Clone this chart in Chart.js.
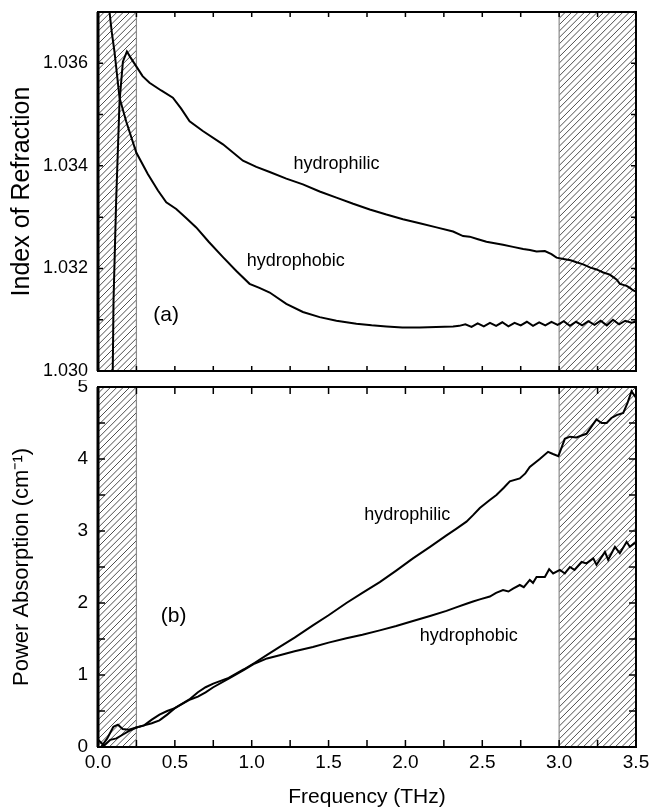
<!DOCTYPE html>
<html>
<head>
<meta charset="utf-8">
<script src="https://cdn.jsdelivr.net/npm/chart.js@4.4.1/dist/chart.umd.min.js"></script>
<style>
  html, body { margin: 0; padding: 0; background: #fff; }
  #wrap { position: relative; width: 649px; height: 811px; }
  canvas { position: absolute; left: 0; }
  #topChart { top: 0; }
  #bottomChart { top: 380px; }
</style>
</head>
<body>
<div id="wrap">
  <canvas id="topChart" width="649" height="380"></canvas>
  <canvas id="bottomChart" width="649" height="431"></canvas>
</div>
<script>
// Data
const hatchBands = [[0, 0.25], [3.0, 3.5]];

const freqTopPhilic = [0.090, 0.096, 0.101, 0.118, 0.140, 0.162, 0.188, 0.210, 0.249, 0.290,
  0.335, 0.411, 0.487, 0.540, 0.596, 0.682, 0.813, 0.943, 1.030, 1.117,
  1.225, 1.333, 1.442, 1.551, 1.660, 1.768, 1.876, 1.984, 2.093, 2.202,
  2.310, 2.375, 2.418, 2.472, 2.527, 2.581, 2.635, 2.700, 2.766, 2.810,
  2.853, 2.907, 2.950, 2.983, 3.037, 3.075, 3.113, 3.156, 3.200, 3.243,
  3.287, 3.330, 3.352, 3.375, 3.395, 3.417, 3.439, 3.460, 3.482, 3.500];
const indexPhilic = [1.02940, 1.03000, 1.03137, 1.03331, 1.03525, 1.03603, 1.03623, 1.03612, 1.03594, 1.03575,
  1.03562, 1.03547, 1.03533, 1.03512, 1.03487, 1.03468, 1.03442, 1.03410, 1.03398, 1.03388,
  1.03375, 1.03364, 1.03350, 1.03338, 1.03326, 1.03315, 1.03305, 1.03296, 1.03288, 1.03280,
  1.03272, 1.03263, 1.03262, 1.03257, 1.03252, 1.03249, 1.03246, 1.03242, 1.03238, 1.03236,
  1.03233, 1.03234, 1.03228, 1.03221, 1.03218, 1.03216, 1.03212, 1.03208, 1.03202, 1.03198,
  1.03192, 1.03188, 1.03183, 1.03178, 1.03170, 1.03168, 1.03166, 1.03162, 1.03157, 1.03155];

const freqTopPhobic = [0.060, 0.075, 0.090, 0.107, 0.140, 0.183, 0.249, 0.324, 0.390, 0.444,
  0.509, 0.575, 0.639, 0.720, 0.813, 0.900, 0.986, 1.050, 1.117, 1.225,
  1.333, 1.442, 1.551, 1.681, 1.780, 1.876, 1.980, 2.093, 2.200, 2.310,
  2.35, 2.39, 2.43, 2.47, 2.51, 2.55, 2.59, 2.63, 2.67, 2.71,
  2.75, 2.79, 2.83, 2.87, 2.91, 2.95, 2.99, 3.03, 3.07, 3.11,
  3.15, 3.19, 3.23, 3.27, 3.31, 3.35, 3.39, 3.43, 3.47, 3.50];
const indexPhobic = [1.03780, 1.03700, 1.03660, 1.03623, 1.03533, 1.03487, 1.03426, 1.03384, 1.03352, 1.03329,
  1.03316, 1.03298, 1.03280, 1.03252, 1.03222, 1.03195, 1.03170, 1.03162, 1.03153, 1.03131,
  1.03115, 1.03105, 1.03098, 1.03092, 1.03089, 1.03087, 1.03085, 1.03085, 1.03086, 1.03087,
  1.03088, 1.03091, 1.03086, 1.03093, 1.03087, 1.03094, 1.03088, 1.03095, 1.03087, 1.03094,
  1.03089, 1.03096, 1.03088, 1.03095, 1.03089, 1.03096, 1.03090, 1.03097, 1.03088, 1.03096,
  1.03089, 1.03097, 1.03090, 1.03098, 1.03089, 1.03100, 1.03091, 1.03098, 1.03094, 1.03096];

const freqBotPhilic = [0.02, 0.06, 0.10, 0.13, 0.16, 0.20, 0.25, 0.30, 0.35, 0.40,
  0.45, 0.50, 0.60, 0.65, 0.70, 0.75, 0.85, 0.95, 1.02, 1.10,
  1.182, 1.279, 1.398, 1.50, 1.616, 1.72, 1.833, 1.94, 2.049, 2.16,
  2.267, 2.33, 2.397, 2.44, 2.484, 2.549, 2.592, 2.64, 2.679, 2.744,
  2.78, 2.809, 2.874, 2.928, 2.96, 2.995, 3.037, 3.07, 3.113, 3.15,
  3.178, 3.21, 3.243, 3.276, 3.309, 3.34, 3.374, 3.417, 3.445, 3.471, 3.50];
const absPhilic = [0.00, 0.12, 0.28, 0.31, 0.25, 0.24, 0.27, 0.30, 0.33, 0.37,
  0.45, 0.54, 0.67, 0.76, 0.83, 0.88, 0.96, 1.08, 1.17, 1.28,
  1.39, 1.52, 1.69, 1.83, 2.00, 2.14, 2.29, 2.45, 2.62, 2.78,
  2.94, 3.03, 3.13, 3.22, 3.32, 3.43, 3.50, 3.60, 3.69, 3.73,
  3.80, 3.89, 4.00, 4.10, 4.07, 4.04, 4.28, 4.31, 4.30, 4.33,
  4.35, 4.45, 4.55, 4.50, 4.50, 4.57, 4.61, 4.64, 4.78, 4.94, 4.85];

const freqBotPhobic = [0.00, 0.04, 0.08, 0.12, 0.16, 0.20, 0.25, 0.30, 0.35, 0.40,
  0.45, 0.50, 0.60, 0.65, 0.70, 0.75, 0.85, 0.95, 1.02, 1.10,
  1.182, 1.279, 1.398, 1.50, 1.616, 1.72, 1.833, 1.94, 2.049, 2.16,
  2.267, 2.33, 2.397, 2.44, 2.484, 2.549, 2.59, 2.635, 2.67, 2.70,
  2.744, 2.77, 2.809, 2.83, 2.853, 2.907, 2.935, 2.961, 3.005, 3.037,
  3.07, 3.10, 3.146, 3.178, 3.222, 3.243, 3.298, 3.319, 3.363, 3.395,
  3.439, 3.46, 3.49, 3.50];
const absPhobic = [0.10, 0.02, 0.10, 0.12, 0.17, 0.22, 0.27, 0.30, 0.38, 0.45,
  0.50, 0.54, 0.66, 0.70, 0.76, 0.83, 0.95, 1.07, 1.16, 1.23,
  1.275, 1.33, 1.39, 1.45, 1.51, 1.56, 1.62, 1.68, 1.75, 1.82,
  1.89, 1.94, 1.99, 2.02, 2.05, 2.09, 2.14, 2.18, 2.16, 2.20,
  2.25, 2.22, 2.32, 2.28, 2.36, 2.36, 2.47, 2.41, 2.46, 2.41,
  2.50, 2.46, 2.57, 2.55, 2.62, 2.53, 2.71, 2.60, 2.78, 2.69,
  2.85, 2.78, 2.83, 2.82];

const xTicks = [0, 0.5, 1.0, 1.5, 2.0, 2.5, 3.0, 3.5];
const topYTicks = [1.030, 1.032, 1.034, 1.036];
const botYTicks = [0, 1, 2, 3, 4, 5];

const FONT = '"Liberation Sans", Arial, Helvetica, sans-serif';

function toPoints(xs, ys) {
  return xs.map((x, i) => ({ x: x, y: ys[i] }));
}

// hatching, frame, inward ticks and text labels
const framePlugin = {
  id: 'frame',
  beforeDatasetsDraw(chart) {
    const ctx = chart.ctx;
    const a = chart.chartArea;
    const xs = chart.scales.x;
    ctx.save();
    hatchBands.forEach(band => {
      const x0 = xs.getPixelForValue(band[0]);
      const x1 = xs.getPixelForValue(band[1]);
      ctx.save();
      ctx.beginPath();
      ctx.rect(x0, a.top, x1 - x0, a.bottom - a.top);
      ctx.clip();
      ctx.strokeStyle = '#222';
      ctx.lineWidth = 0.8;
      ctx.beginPath();
      const h = a.bottom - a.top;
      for (let s = x0 - h; s < x1 + 2; s += 6.4) {
        ctx.moveTo(s, a.bottom);
        ctx.lineTo(s + h, a.top);
      }
      ctx.stroke();
      ctx.restore();
      ctx.strokeStyle = '#8a8a8a';
      ctx.lineWidth = 1.2;
      [x0, x1].forEach(px => {
        ctx.beginPath();
        ctx.moveTo(px, a.top);
        ctx.lineTo(px, a.bottom);
        ctx.stroke();
      });
    });
    ctx.restore();
  },
  afterDatasetsDraw(chart, args, opts) {
    const ctx = chart.ctx;
    const a = chart.chartArea;
    const xs = chart.scales.x;
    const ys = chart.scales.y;
    ctx.save();
    ctx.strokeStyle = '#000';
    ctx.lineWidth = 1.5;
    ctx.beginPath();
    for (let v = 0.25; v < 3.5; v += 0.25) {
      const px = xs.getPixelForValue(v);
      ctx.moveTo(px, a.bottom); ctx.lineTo(px, a.bottom - opts.tick);
      ctx.moveTo(px, a.top); ctx.lineTo(px, a.top + opts.tick);
    }
    for (let v = ys.min + opts.yStep; v < ys.max - 1e-9; v += opts.yStep) {
      const py = ys.getPixelForValue(v);
      ctx.moveTo(a.left, py); ctx.lineTo(a.left + opts.tick, py);
      ctx.moveTo(a.right, py); ctx.lineTo(a.right - opts.tick, py);
    }
    ctx.stroke();
    ctx.lineWidth = 2;
    ctx.strokeRect(a.left, a.top, a.right - a.left, a.bottom - a.top);
    ctx.lineWidth = 3;
    ctx.beginPath();
    ctx.moveTo(a.left, a.top); ctx.lineTo(a.left, a.bottom);
    ctx.stroke();

    ctx.fillStyle = '#000';
    ctx.textAlign = 'center';
    ctx.textBaseline = 'middle';
    opts.notes.forEach(n => {
      ctx.font = n.size + 'px ' + FONT;
      ctx.fillText(n.text, xs.getPixelForValue(n.x), ys.getPixelForValue(n.y));
    });
    ctx.restore();
  }
};

function lineSet(data) {
  return {
    data: data,
    showLine: true,
    borderColor: '#000',
    borderWidth: 2,
    pointRadius: 0,
    tension: 0,
    fill: false
  };
}

// Top panel: index of refraction
new Chart(document.getElementById('topChart'), {
  type: 'scatter',
  data: {
    datasets: [
      lineSet(toPoints(freqTopPhilic, indexPhilic)),
      lineSet(toPoints(freqTopPhobic, indexPhobic))
    ]
  },
  options: {
    responsive: false,
    animation: false,
    layout: { padding: { top: 12, right: 13, left: 0, bottom: 0 } },
    plugins: {
      legend: { display: false },
      tooltip: { enabled: false },
      frame: {
        tick: 5,
        yStep: 0.001,
        notes: [
          { text: 'hydrophilic', x: 1.551, y: 1.03403, size: 18 },
          { text: 'hydrophobic', x: 1.286, y: 1.03215, size: 18 },
          { text: '(a)', x: 0.443, y: 1.03108, size: 21 }
        ]
      }
    },
    scales: {
      x: {
        type: 'linear', min: 0, max: 3.5,
        grid: { display: false, drawTicks: false },
        border: { display: false },
        ticks: { display: false },
        afterFit: s => { s.height = 9; s.paddingLeft = 0; s.paddingRight = 0; }
      },
      y: {
        type: 'linear', min: 1.030, max: 1.037,
        grid: { display: false, drawTicks: false },
        border: { display: false },
        afterBuildTicks: s => { s.ticks = topYTicks.map(v => ({ value: v })); },
        ticks: {
          color: '#000', padding: 10,
          font: { family: FONT, size: 18 },
          callback: v => v.toFixed(3)
        },
        title: {
          display: true, text: 'Index of Refraction', color: '#000',
          font: { family: FONT, size: 25 },
          padding: { top: 7, bottom: 0 }
        },
        afterFit: s => { s.width = 98; s.paddingTop = 0; s.paddingBottom = 0; }
      }
    }
  },
  plugins: [framePlugin]
});

// Bottom panel: power absorption
new Chart(document.getElementById('bottomChart'), {
  type: 'scatter',
  data: {
    datasets: [
      lineSet(toPoints(freqBotPhilic, absPhilic)),
      lineSet(toPoints(freqBotPhobic, absPhobic))
    ]
  },
  options: {
    responsive: false,
    animation: false,
    layout: { padding: { top: 7, right: 13, left: 0, bottom: 0 } },
    plugins: {
      legend: { display: false },
      tooltip: { enabled: false },
      frame: {
        tick: 7,
        yStep: 0.5,
        notes: [
          { text: 'hydrophilic', x: 2.012, y: 3.22, size: 18 },
          { text: 'hydrophobic', x: 2.412, y: 1.54, size: 18 },
          { text: '(b)', x: 0.492, y: 1.82, size: 21 }
        ]
      }
    },
    scales: {
      x: {
        type: 'linear', min: 0, max: 3.5,
        grid: { display: false, drawTicks: false },
        border: { display: false },
        afterBuildTicks: s => { s.ticks = xTicks.map(v => ({ value: v })); },
        ticks: {
          color: '#000', padding: 4, maxRotation: 0,
          font: { family: FONT, size: 19 },
          callback: v => v.toFixed(1)
        },
        title: {
          display: true, text: 'Frequency (THz)', color: '#000',
          font: { family: FONT, size: 21 },
          padding: { top: 0, bottom: 1 }
        },
        afterFit: s => { s.height = 64; s.paddingLeft = 0; s.paddingRight = 0; }
      },
      y: {
        type: 'linear', min: 0, max: 5,
        grid: { display: false, drawTicks: false },
        border: { display: false },
        afterBuildTicks: s => { s.ticks = botYTicks.map(v => ({ value: v })); },
        ticks: {
          color: '#000', padding: 10,
          font: { family: FONT, size: 19 },
          callback: v => String(v)
        },
        title: {
          display: true, text: 'Power Absorption (cm⁻¹)', color: '#000',
          font: { family: FONT, size: 22 },
          padding: { top: 9, bottom: 0 }
        },
        afterFit: s => { s.width = 98; s.paddingTop = 0; s.paddingBottom = 0; }
      }
    }
  },
  plugins: [framePlugin]
});
</script>
</body>
</html>
